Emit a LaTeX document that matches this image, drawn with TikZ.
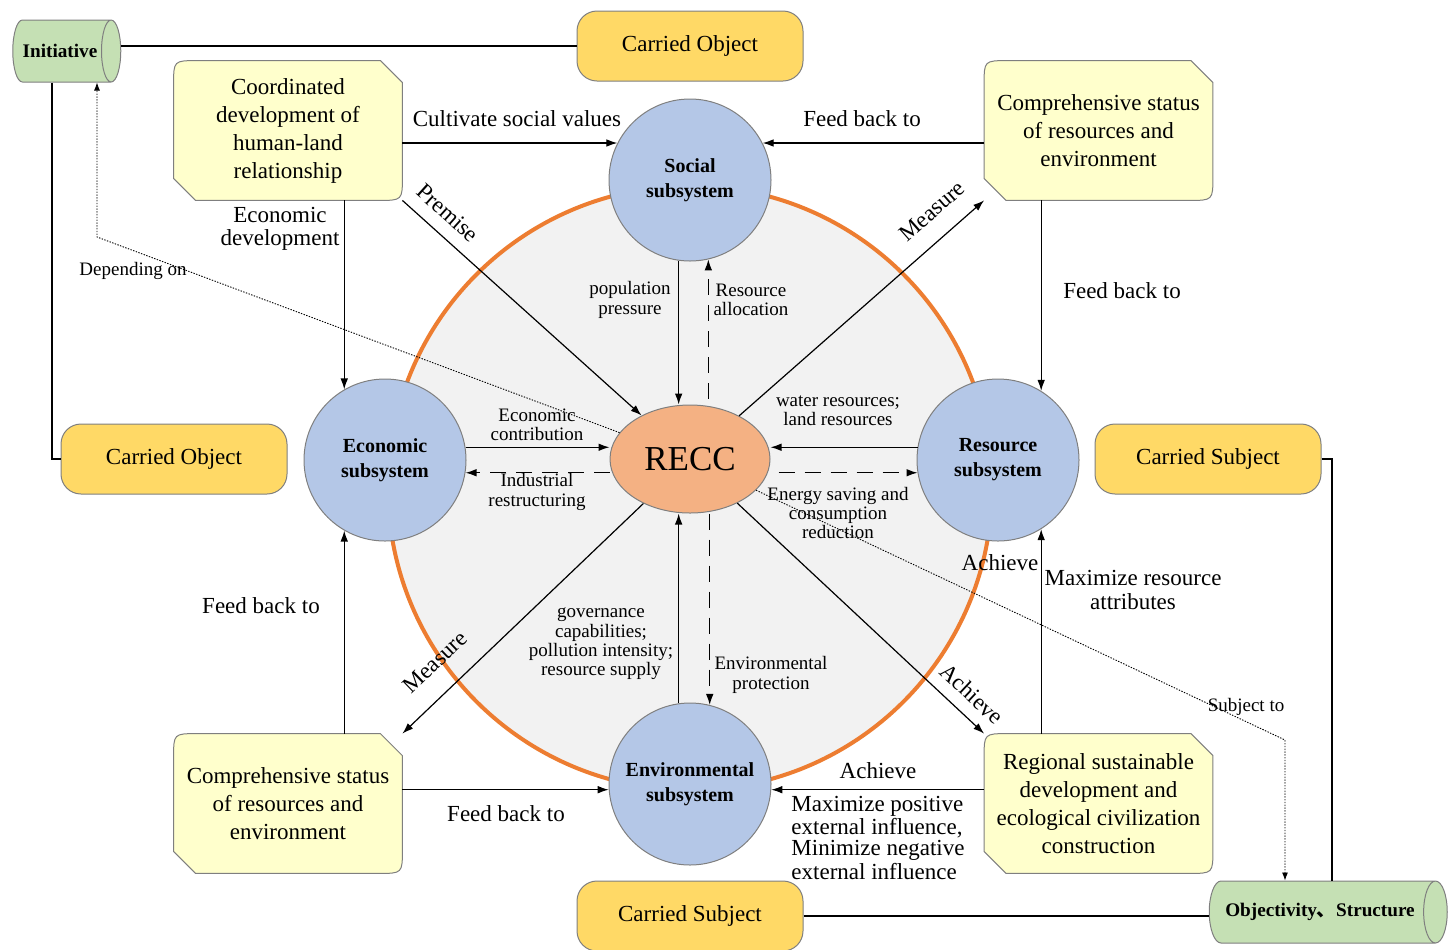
\documentclass[tikz,border=0pt]{standalone}
\usepackage{fontspec}
\setmainfont{Liberation Serif}
\newfontfamily\cjkfont{Noto Sans CJK SC}
\usetikzlibrary{shapes.geometric,arrows.meta,backgrounds,calc}
\definecolor{ringorange}{HTML}{ED7D31}
\definecolor{ringfill}{HTML}{F2F2F2}
\definecolor{subblue}{HTML}{B4C7E7}
\definecolor{reccfill}{HTML}{F4B183}
\definecolor{carryfill}{HTML}{FFD966}
\definecolor{softyellow}{HTML}{FFFFCC}
\definecolor{cylgreen}{HTML}{C5E0B4}
\definecolor{edgegray}{HTML}{7F7F7F}
\newcommand\fbig{\fontsize{11.5}{14}\selectfont}
\newcommand\flbl{\fontsize{11.5}{11.8}\selectfont}
\newcommand\fsmall{\fontsize{9.5}{9.7}\selectfont}
\newcommand\fsub{\bfseries\fontsize{10}{12.5}\selectfont}
\newcommand\chamfbox[1]{%
  \path[yshape] ([xshift=12pt]#1.north west) -- ([xshift=-11pt]#1.north east)
    -- ([yshift=-11pt]#1.north east) -- ([yshift=12pt]#1.south east)
    .. controls (#1.south east) .. ([xshift=-12pt]#1.south east)
    -- ([xshift=11pt]#1.south west) -- ([yshift=11pt]#1.south west)
    -- ([yshift=-12pt]#1.north west)
    .. controls (#1.north west) .. ([xshift=12pt]#1.north west) -- cycle;}
\begin{document}
\begin{tikzpicture}[x=0.5pt,y=-0.5pt,
  sub/.style={circle, draw=edgegray, line width=0.5pt, fill=subblue, minimum size=81pt, inner sep=0pt, align=center, font=\fsub},
  carry/.style={rectangle, rounded corners=10pt, draw=edgegray, line width=0.5pt, fill=carryfill, minimum width=113pt, minimum height=35pt, font=\fbig},
  ybox/.style={rectangle, minimum width=114pt, minimum height=69.5pt, inner sep=0pt, align=center, font=\fbig},
  yshape/.style={fill=softyellow, draw=edgegray, line width=0.5pt},
  cyl/.style={cylinder, shape aspect=1.1, draw=edgegray, line width=0.5pt, fill=cylgreen, inner sep=1pt, font=\bfseries\fontsize{9.6}{11}\selectfont},
  arr/.style={-{Latex[length=5.5pt,width=3.8pt]}, line width=0.6pt},
  plain/.style={line width=0.6pt},
  dasharr/.style={arr, dash pattern=on 8pt off 5pt},
  dotarr/.style={-{Latex[length=4pt,width=3pt]}, line width=0.45pt, dash pattern=on 0.7pt off 0.7pt},
  lbl/.style={font=\flbl, align=center, inner sep=0pt},
  slbl/.style={font=\fsmall, align=center, inner sep=0pt}]
\useasboundingbox (0,0) rectangle (1456,949);
% big ring
\node[circle, draw=ringorange, line width=2pt, fill=ringfill, minimum size=302pt, inner sep=0pt] (ring) at (690,488) {};
% subsystems
\node[sub] (social) at (690,180) {Social\\subsystem};
\node[sub] (econ) at (385,460) {Economic\\subsystem};
\node[sub] (res) at (998,460) {Resource\\subsystem};
\node[sub] (env) at (690,784) {Environmental\\subsystem};
\node[ellipse, draw=edgegray, line width=0.5pt, fill=reccfill, minimum width=80pt, minimum height=54pt, inner sep=0pt, font=\fontsize{17.5}{20}\selectfont] (recc) at (690,459) {RECC};
% carried boxes
\node[carry] (cot) at (690,46) {Carried Object};
\node[carry] (col) at (174,459) {Carried Object};
\node[carry] (csr) at (1208,459) {Carried Subject};
\node[carry] (csb) at (690,916) {Carried Subject};
% yellow boxes
\node[ybox] (tl) at (288,130.5) {Coordinated\\development of\\human-land\\relationship};
\node[ybox] (tr) at (1098.5,130.5) {Comprehensive status\\of resources and\\environment};
\node[ybox] (bl) at (288,803.5) {Comprehensive status\\of resources and\\environment};
\node[ybox] (br) at (1098.5,803.5) {Regional sustainable\\development and\\ecological civilization\\construction};
\begin{scope}[on background layer]
\chamfbox{tl}\chamfbox{tr}\chamfbox{bl}\chamfbox{br}
\end{scope}
% cylinders
\node[cyl, minimum width=31pt, minimum height=54pt] (init) at (60,51) {Initiative};
\node[cyl, minimum width=31pt, minimum height=119pt] (obj) at (1320,912) {Objectivity{\cjkfont 、}Structure};
% outer plain connectors
\draw[plain] (init.east |- cot.west) -- (cot.west);
\coordinate (ci) at (52,459);
\draw[plain] (ci |- init.south) -- (ci) -- (col.west);
\coordinate (cs) at (1332,459);
\draw[plain] (csr.east) -- (cs) -- (cs |- obj.north);
\draw[plain] (csb.east) -- (csb.east -| obj.west);
% outer arrows
\draw[arr] (tl.east |- social.153) -- (social.153);
\draw[arr] (tr.west |- social.27) -- (social.27);
\draw[arr] (econ.120 |- tl.south) -- (econ.120);
\draw[arr] (res.58 |- tr.south) -- (res.58);
\draw[arr] (econ.240 |- bl.north) -- (econ.240);
\draw[arr] (res.302 |- br.north) -- (res.302);
\draw[arr] (bl.east |- env.184) -- (env.184);
\draw[arr] (br.west |- env.356) -- (env.356);
\draw[arr] (tl.south east) -- (recc);
\draw[arr] (recc) -- (tr.south west);
\draw[arr] (recc) -- (bl.north east);
\draw[arr] (recc) -- (br.north west);
% inner arrows
\draw[arr] (social.262) -- (social.262 |- recc.north);
\draw[dasharr] ($(social.283 |- recc.north)+(0,-6)$) -- (social.283);
\draw[arr] (econ.9) -- (recc.west |- econ.9);
\draw[dasharr] (recc.west |- econ.351) -- (econ.351);
\draw[arr] (res.171) -- (recc.east |- res.171);
\draw[dasharr] ($(recc.east |- res.189)+(8,0)$) -- (res.189);
\draw[arr] (env.98) -- (env.98 |- recc.south);
\draw[dasharr] (env.76 |- recc.south) -- (env.76);
% dotted
\coordinate (dep) at (97,237);
\draw[dotarr] (recc) -- (dep) -- (dep |- init.south);
\coordinate (subj) at (1285,740);
\draw[dotarr] (recc) -- (subj) -- (subj |- obj.north);
% labels
\node[lbl] (l1) at (517,119) {Cultivate social values};
\node[lbl] (l2) at (862,119) {Feed back to};
\node[lbl] (l3) at (280,229) {Economic\\development};
\node[lbl] (l4) at (1122,291) {Feed back to};
\node[lbl] (l5) at (261,606) {Feed back to};
\node[lbl] (l6) at (506,814) {Feed back to};
\node[lbl] (l7) at (878,771) {Achieve};
\node[lbl, align=left, font=\fontsize{11.5}{10.5}\selectfont] (l8) at (878,838) {Maximize positive\\external influence,\\Minimize negative\\external influence};
\node[lbl] (l9) at (1000,563) {Achieve};
\node[lbl] (l10) at (1133,590) {Maximize resource\\attributes};
\node[lbl, rotate=-42] (p1) at (448,213) {Premise};
\node[lbl, rotate=41.3] (m1) at (932,211) {Measure};
\node[lbl, rotate=43.7] (m2) at (435,662) {Measure};
\node[lbl, rotate=-43] (a1) at (972,694) {Achieve};
\node[slbl] (s1) at (630,300) {population\\pressure};
\node[slbl] (s2) at (751,300) {Resource\\allocation};
\node[slbl] (s3) at (537,425) {Economic\\contribution};
\node[slbl] (s4) at (537,492) {Industrial\\restructuring};
\node[slbl] (s5) at (838,411) {water resources;\\land resources};
\node[slbl] (s6) at (838,513) {Energy saving and\\consumption\\reduction};
\node[slbl] (s7) at (601,644) {governance\\capabilities;\\pollution intensity;\\resource supply};
\node[slbl] (s8) at (771,675) {Environmental\\protection};
\node[slbl] (s9) at (133,271) {Depending on};
\node[slbl] (s10) at (1246,707) {Subject to};
\end{tikzpicture}
\end{document}
